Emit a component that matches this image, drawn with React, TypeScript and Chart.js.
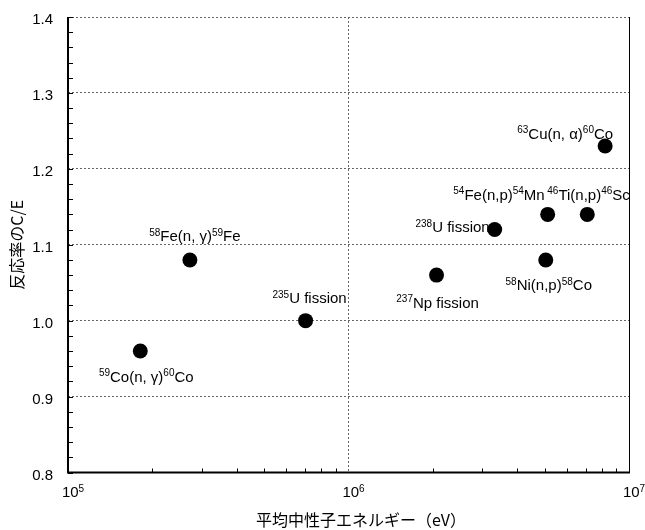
import React, { useEffect, useRef } from "react";
import { Chart, registerables } from "chart.js";

Chart.register(...registerables);

// ---- data ----
const reactionLabels = [
  "^59^Co(n, γ)^60^Co",
  "^58^Fe(n, γ)^59^Fe",
  "^235^U fission",
  "^237^Np fission",
  "^238^U fission",
  "^54^Fe(n,p)^54^Mn",
  "^46^Ti(n,p)^46^Sc",
  "^58^Ni(n,p)^58^Co",
  "^63^Cu(n, α)^60^Co",
];
const meanEnergies = [1.81e5, 2.72e5, 7.03e5, 2.06e6, 3.32e6, 5.13e6, 7.1e6, 5.05e6, 8.22e6];
const ratioCE = [0.96, 1.08, 1.0, 1.06, 1.12, 1.14, 1.14, 1.08, 1.23];
const xTickExponents = [5, 6, 7];
const yTickStep = 0.1;
const yMin = 0.8;
const yMax = 1.4;
const xAxisTitle = "平均中性子エネルギー（eV）";
const yAxisTitle = "反応率のC/E";

// ---- label placement (styling, px offsets from each point) ----
const labelAnchor = ["center", "center", "center", "center", "right", "right", "left", "center", "right"];
const labelDx = [6, 5, 4, 1, -5, -3, -40, 3, 8];
const labelDy = [25, -24, -23, 27, -3, -20, -20, 25, -13];

const LATIN = '"Liberation Sans", "Noto Sans CJK JP", sans-serif';
const CJK = '"Noto Sans CJK JP", "Liberation Sans", sans-serif';

function drawRich(ctx: CanvasRenderingContext2D, text: string, x: number, y: number, anchor: string, mainSize = 15, supSize = 10) {
  const parts = text.split("^");
  const main = `${mainSize}px ${LATIN}`;
  const sup = `${supSize}px ${LATIN}`;
  let w = 0;
  parts.forEach((p, i) => {
    ctx.font = i % 2 ? sup : main;
    w += ctx.measureText(p).width;
  });
  let sx = anchor === "left" ? x : anchor === "right" ? x - w : x - w / 2;
  const base = y + 5.5;
  ctx.textAlign = "left";
  ctx.textBaseline = "alphabetic";
  ctx.fillStyle = "#000";
  parts.forEach((p, i) => {
    ctx.font = i % 2 ? sup : main;
    ctx.fillText(p, sx, i % 2 ? base - 5.5 : base);
    sx += ctx.measureText(p).width;
  });
}

const decorPlugin = {
  id: "decor",
  beforeDatasetsDraw(chart: any) {
    const ctx = chart.ctx as CanvasRenderingContext2D;
    const { left, right, top, bottom } = chart.chartArea;
    const xs = chart.scales.x;
    const ys = chart.scales.y;
    ctx.save();
    ctx.strokeStyle = "#000";
    ctx.setLineDash([]);
    ctx.lineWidth = 1;
    for (let k = 0; k <= 30; k++) {
      const v = yMin + k * 0.02;
      const py = Math.round(ys.getPixelForValue(v)) + 0.5;
      ctx.beginPath();
      ctx.moveTo(left, py);
      ctx.lineTo(left + 5, py);
      ctx.stroke();
    }
    for (let e = 5; e < 7; e++) {
      for (let m = 2; m <= 9; m++) {
        const px = Math.round(xs.getPixelForValue(m * Math.pow(10, e))) + 0.5;
        ctx.beginPath();
        ctx.moveTo(px, bottom);
        ctx.lineTo(px, bottom - 4);
        ctx.stroke();
      }
    }
    ctx.lineWidth = 1;
    ctx.beginPath();
    ctx.moveTo(right + 0.5, top);
    ctx.lineTo(right + 0.5, bottom);
    ctx.stroke();
    ctx.lineWidth = 2;
    ctx.beginPath();
    ctx.moveTo(left, top);
    ctx.lineTo(left, bottom);
    ctx.lineTo(right + 1, bottom);
    ctx.stroke();
    ctx.restore();
  },
  afterDatasetsDraw(chart: any) {
    const ctx = chart.ctx as CanvasRenderingContext2D;
    const { left, right, bottom } = chart.chartArea;
    const xs = chart.scales.x;
    const ys = chart.scales.y;
    ctx.save();
    ctx.beginPath();
    ctx.rect(left, 0, right - left + 1, bottom);
    ctx.clip();
    reactionLabels.forEach((t, i) => {
      const px = xs.getPixelForValue(meanEnergies[i]);
      const py = ys.getPixelForValue(ratioCE[i]);
      drawRich(ctx, t, px + labelDx[i], py + labelDy[i], labelAnchor[i]);
    });
    ctx.restore();

    ctx.save();
    xTickExponents.forEach((e) => {
      const px = xs.getPixelForValue(Math.pow(10, e));
      drawRich(ctx, "10^" + e + "^", px + 5, bottom + 19, "center", 15, 10);
    });
    ctx.font = `16px ${CJK}`;
    ctx.fillStyle = "#000";
    ctx.textAlign = "center";
    ctx.textBaseline = "middle";
    ctx.fillText(xAxisTitle, 361, 520);
    ctx.restore();
  },
};

export default function App() {
  const ref = useRef<HTMLCanvasElement | null>(null);
  useEffect(() => {
    document.body.style.margin = "0";
    const canvas = ref.current;
    if (!canvas) return;
    const chart = new Chart(canvas, {
      type: "scatter",
      data: {
        datasets: [
          {
            label: "C/E",
            data: meanEnergies.map((x, i) => ({ x, y: ratioCE[i] })),
            backgroundColor: "#000",
            borderColor: "#000",
            borderWidth: 0,
            pointRadius: 7.5,
            pointHoverRadius: 7.5,
          },
        ],
      },
      options: {
        responsive: false,
        animation: false,
        devicePixelRatio: 1,
        layout: { padding: { left: 0, right: 16, top: 17, bottom: 0 } },
        plugins: { legend: { display: false }, tooltip: { enabled: false } },
        scales: {
          x: {
            type: "logarithmic",
            min: 1e5,
            max: 1e7,
            afterBuildTicks: (scale: any) => {
              scale.ticks = xTickExponents.map((e) => ({ value: Math.pow(10, e) }));
            },
            afterFit: (scale: any) => {
              scale.height = 57.5;
              scale.paddingLeft = 0;
              scale.paddingRight = 0;
            },
            ticks: { display: false },
            grid: { color: "#666", lineWidth: 1, drawTicks: false },
            border: { display: false, dash: [2, 2] },
            title: { display: false },
          },
          y: {
            min: yMin,
            max: yMax,
            afterFit: (scale: any) => {
              scale.width = 68;
              scale.paddingTop = 0;
              scale.paddingBottom = 0;
            },
            ticks: {
              stepSize: yTickStep,
              padding: 15,
              labelOffset: 3,
              color: "#000",
              font: { size: 15, family: LATIN },
              callback: (v: any) => Number(v).toFixed(1),
            },
            grid: { color: "#666", lineWidth: 1, drawTicks: false },
            border: { display: false, dash: [2, 2] },
            title: {
              display: true,
              text: yAxisTitle,
              color: "#000",
              font: { size: 16, family: CJK },
              padding: { top: 7, bottom: 0 },
            },
          },
        },
      },
      plugins: [decorPlugin],
    } as any);
    return () => chart.destroy();
  }, []);
  return (
    <div style={{ position: "absolute", left: 0, top: 0, width: 645, height: 530 }}>
      <canvas ref={ref} width={645} height={530} />
    </div>
  );
}
